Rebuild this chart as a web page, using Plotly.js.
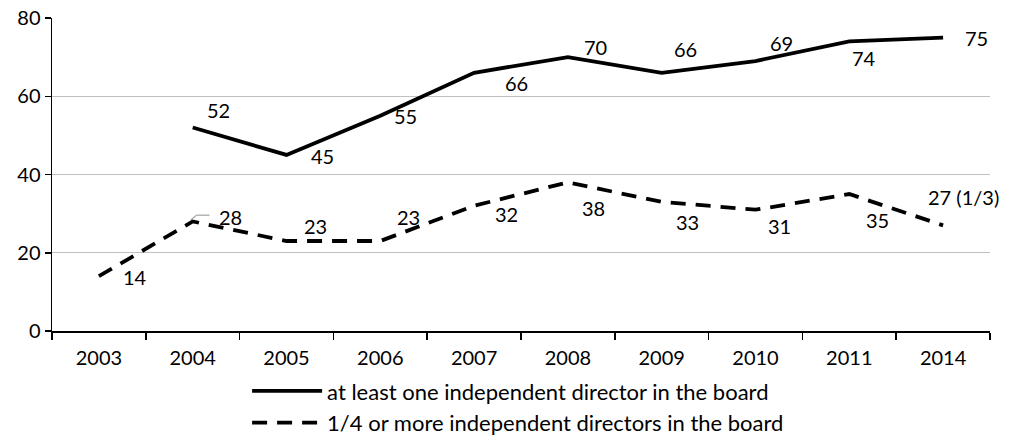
<!DOCTYPE html>
<html>
<head>
<meta charset="utf-8">
<script src="https://cdn.plot.ly/plotly-3.0.1.min.js"></script>
<style>
  html, body { margin: 0; padding: 0; background: #fff; }
  #chart { width: 1010px; height: 439px; }
</style>
</head>
<body>
<div id="chart"></div>
<script>
// Share of companies with independent directors on the board (%)
const years = ['2003', '2004', '2005', '2006', '2007', '2008', '2009', '2010', '2011', '2014'];
const atLeastOne = [null, 52, 45, 55, 66, 70, 66, 69, 74, 75];
const quarterOrMore = [14, 28, 23, 23, 32, 38, 33, 31, 35, 27];
const labelSuffixQuarter = ['', '', '', '', '', '', '', '', '', ' (1/3)'];

const seriesNames = [
  'at least one independent director in the board',
  '1/4 or more independent directors in the board'
];

// pixel offsets of each value label relative to its point
const solidOffsets = [null, [26, 18], [36, -1], [25, 0], [42, -10], [28, 10], [24, 24], [26, 18], [15, -17], [33, 0]];
const dashOffsets = [[36, -1], [38, 4], [29, 15], [28, 24], [32, -8], [26, -26], [26, -20], [24, -16], [28, -26], [20, 28]];

const font = 'Lato, "Open Sans", "Liberation Sans", sans-serif';

const traces = [
  {
    x: years, y: atLeastOne, name: seriesNames[0], type: 'scatter', mode: 'lines',
    line: { color: '#000', width: 3.8 }, connectgaps: false
  },
  {
    x: years, y: quarterOrMore, name: seriesNames[1], type: 'scatter', mode: 'lines',
    line: { color: '#000', width: 3.8, dash: '15px,10px' }
  }
];

const annotations = [];
years.forEach((yr, i) => {
  if (atLeastOne[i] !== null) {
    annotations.push({
      x: i, y: atLeastOne[i], xref: 'x', yref: 'y', text: String(atLeastOne[i]),
      showarrow: false, xshift: solidOffsets[i][0], yshift: solidOffsets[i][1],
      font: { family: font, size: 20, color: '#000' }
    });
  }
  annotations.push({
    x: i, y: quarterOrMore[i], xref: 'x', yref: 'y', text: quarterOrMore[i] + labelSuffixQuarter[i],
    showarrow: false, xshift: dashOffsets[i][0], yshift: dashOffsets[i][1],
    font: { family: font, size: 20, color: '#000' }
  });
});

const layout = {
  width: 1010, height: 439,
  margin: { l: 52, r: 20, t: 18, b: 108, autoexpand: false },
  paper_bgcolor: '#fff', plot_bgcolor: '#fff',
  font: { family: font, size: 20, color: '#000' },
  showlegend: true,
  legend: {
    orientation: 'v', x: 0.208, xanchor: 'left', y: -0.125, yanchor: 'top',
    font: { family: font, size: 22, color: '#000' },
    itemwidth: 70, tracegroupgap: 0, bgcolor: 'rgba(0,0,0,0)'
  },
  xaxis: {
    type: 'category', range: [-0.5, 9.5],
    showline: true, linecolor: '#000', linewidth: 1.5,
    ticks: 'outside', tickson: 'boundaries', ticklen: 7, tickcolor: '#000', tickwidth: 1.5,
    ticklabelstandoff: 8,
    showgrid: false, zeroline: false,
    tickfont: { family: font, size: 20, color: '#000' }
  },
  yaxis: {
    range: [0, 80], dtick: 20,
    showline: true, linecolor: '#000', linewidth: 1.5,
    ticks: 'outside', ticklen: 6, tickcolor: '#000', tickwidth: 1.5,
    showgrid: true, gridcolor: '#c0c0c0', gridwidth: 1.2, zeroline: false,
    tickfont: { family: font, size: 20, color: '#000' }
  },
  annotations: annotations,
  shapes: [
    // thin leader line for the 2004 label of the dashed series
    { type: 'line', xref: 'x', yref: 'y', x0: 0.98, x1: 1.04, y0: 28.4, y1: 29.6, line: { color: '#a0a0a0', width: 1.2 } },
    { type: 'line', xref: 'x', yref: 'y', x0: 1.04, x1: 1.18, y0: 29.6, y1: 29.6, line: { color: '#a0a0a0', width: 1.2 } }
  ]
};

Plotly.newPlot('chart', traces, layout, { displayModeBar: false, staticPlot: true });
</script>
</body>
</html>
